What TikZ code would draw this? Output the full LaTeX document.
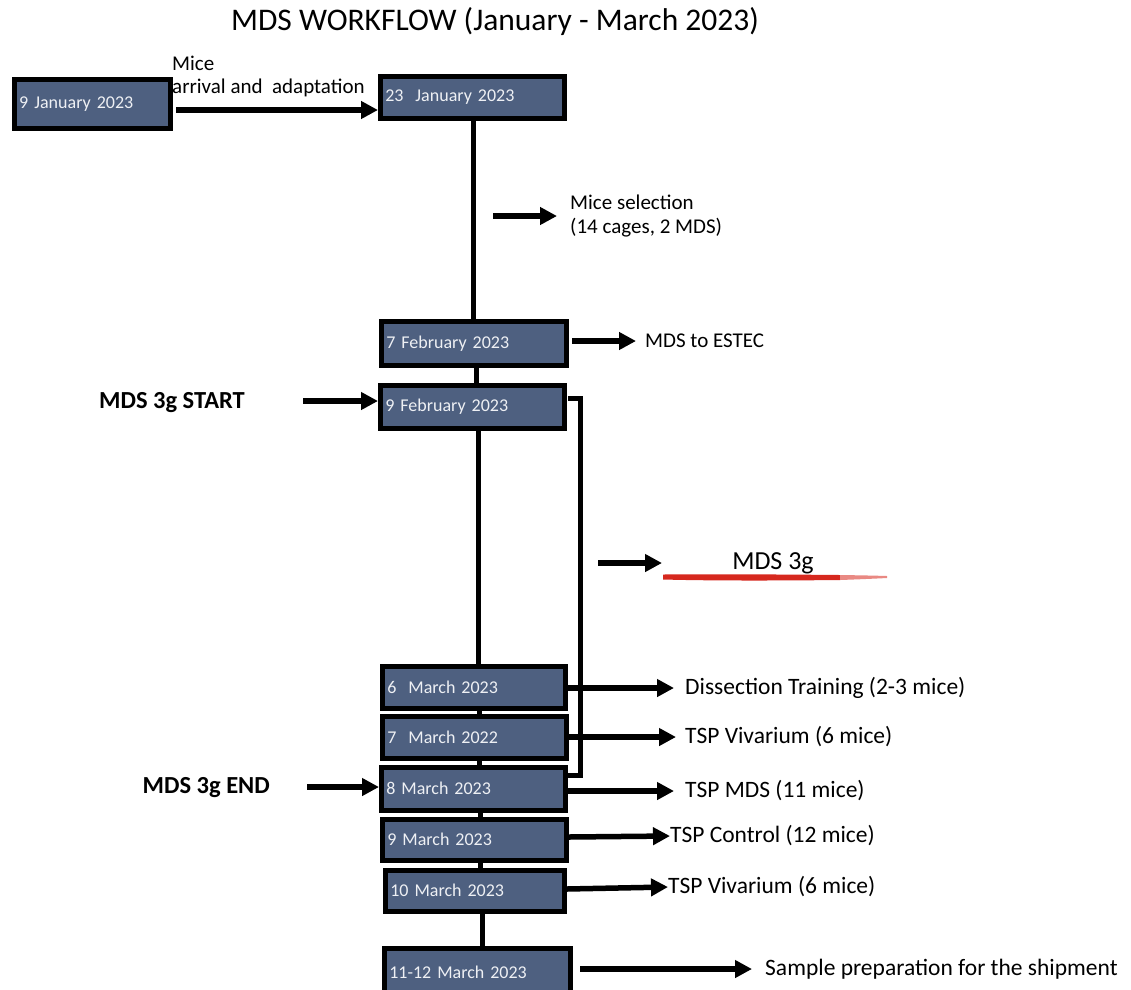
\documentclass[tikz,border=0pt]{standalone}
\usepackage{fontspec}
\setmainfont{Carlito}
\usetikzlibrary{arrows.meta}
\definecolor{boxblue}{RGB}{78,96,128}
\definecolor{boxtext}{RGB}{238,240,244}
\definecolor{brushred}{RGB}{214,40,30}
\begin{document}
\begin{tikzpicture}[x=1pt,y=-1pt,
  datebox/.style={draw=black,line width=4.5pt,fill=boxblue,text=boxtext,
    anchor=north west,inner xsep=5pt,inner ysep=0pt,align=left,
    font=\fontsize{18}{20}\selectfont},
  link/.style={line width=5pt},
  arr/.style={line width=5.5pt,-{Triangle[length=17pt,width=17pt]}},
  lbl/.style={anchor=west,inner sep=0pt,font=\fontsize{21}{23}\selectfont},
  biglbl/.style={anchor=west,inner sep=0pt,font=\fontsize{23.5}{26}\selectfont},
  sidelbl/.style={anchor=east,inner sep=0pt,font=\bfseries\fontsize{24.5}{27}\selectfont}]
\useasboundingbox (0,0) rectangle (1131,989);

% title
\node[font=\fontsize{31.5}{34}\selectfont,inner sep=0pt] (title) at (495,22) {MDS WORKFLOW (January - March 2023)};

% date boxes
\node[datebox,text width=146pt,minimum height=49pt] (b1) at (12,77) {9 January 2023};
\node[datebox,text width=174pt,minimum height=42pt] (b2) at (378,74) {23\ \ January 2023};
\node[datebox,text width=175pt,minimum height=44pt] (b3) at (379,319) {7 February 2023};
\node[datebox,text width=174pt,minimum height=43pt] (b4) at (378,383) {9 February 2023};
\node[datebox,text width=173pt,minimum height=42pt] (b5) at (380,664) {6\ \ March 2023};
\node[datebox,text width=174pt,minimum height=42pt] (b6) at (380,714) {7\ \ March 2022};
\node[datebox,text width=174pt,minimum height=43pt] (b7) at (379,765) {8 March 2023};
\node[datebox,text width=174pt,minimum height=41pt] (b8) at (380,817) {9 March 2023};
\node[datebox,text width=169pt,minimum height=41pt] (b9) at (383,868) {10 March 2023};
\node[datebox,text width=176pt,minimum height=48pt] (b10) at (382,946) {11-12 March 2023};

% timeline spine
\draw[link] (b2.south -| 473,0) -- (b3.north -| 473,0);
\draw[link] (b3.south -| 476,0) -- (b4.north -| 476,0);
\draw[link] (b4.south -| 478,0) -- (b5.north -| 478,0);
\draw[link] (b5.south -| 479,0) -- (b6.north -| 479,0);
\draw[link] (b6.south -| 479,0) -- (b7.north -| 479,0);
\draw[link] (b7.south -| 480,0) -- (b8.north -| 480,0);
\draw[link] (b8.south -| 480,0) -- (b9.north -| 480,0);
\draw[link] (b9.south -| 482,0) -- (b10.north -| 482,0);

% arrival
\node[lbl,align=left,anchor=south west] (arrival) at (172,97) {Mice\\arrival and\ \ adaptation};
\coordinate (a1) at (176,110);
\draw[arr] (a1) -- (a1 -| b2.west);

% mice selection
\coordinate (ms) at (493,216);
\node[lbl,align=left,font=\fontsize{21}{24}\selectfont] (sel) at (570,216) {Mice selection\\(14 cages, 2 MDS)};
\draw[arr] (ms) -- (557,216);

% MDS to ESTEC
\node[lbl] (estec) at (645,341) {MDS to ESTEC};
\draw[arr,shorten >=9pt] (572,341) -- (estec.west);

% start / end markers
\node[sidelbl] (start) at (245,403) {MDS 3g START};
\draw[arr] (303,401) -- (b4.west |- 0,401);
\node[sidelbl] (stop) at (270,788) {MDS 3g END};
\draw[arr] (307,787) -- (b7.west |- 0,787);

% bracket spanning the MDS 3g period
\coordinate (br1) at (568,398);
\coordinate (br2) at (568,775);
\draw[line width=5pt,line join=miter] (br1) -- (580,398) -- (580,775) -- (br2);

% MDS 3g period label with a brush-stroke underline
\node[lbl,anchor=center,font=\fontsize{26}{28}\selectfont] (period) at (773,563) {MDS 3g};
\coordinate (pa) at (598,563);
\draw[arr] (pa) -- (662,563);
\fill[brushred] (663,574.5) .. controls (720,574) and (790,574.5) .. (840,575)
  -- (840,580) .. controls (790,580.5) and (720,581) .. (663,579.5) -- cycle;
\fill[brushred!55] (840,575) .. controls (860,575.3) and (875,575.6) .. (887,576)
  -- (887,578) .. controls (875,578.6) and (860,579.3) .. (840,580) -- cycle;

% outcomes
\node[biglbl] (o5) at (685,688) {Dissection Training (2-3 mice)};
\draw[arr,shorten >=11pt] (b5.east |- 0,688) -- (o5.west);
\node[biglbl] (o6) at (685,737) {TSP Vivarium (6 mice)};
\draw[arr,shorten >=9pt] (b6.east |- 0,737) -- (o6.west);
\node[biglbl] (o7) at (685,791) {TSP MDS (11 mice)};
\draw[arr,shorten >=11pt] (b7.east |- 0,791) -- (o7.west);
\node[biglbl] (o8) at (670,836) {TSP Control (12 mice)};
\draw[arr] (b8.east |- 0,837) -- (o8.west);
\node[biglbl] (o9) at (668,887) {TSP Vivarium (6 mice)};
\draw[arr] (b9.east |- 0,889) -- (o9.west);
\node[biglbl] (o10) at (765,969) {Sample preparation for the shipment};
\draw[arr,shorten >=13pt] (580,969) -- (o10.west);
\end{tikzpicture}
\end{document}
